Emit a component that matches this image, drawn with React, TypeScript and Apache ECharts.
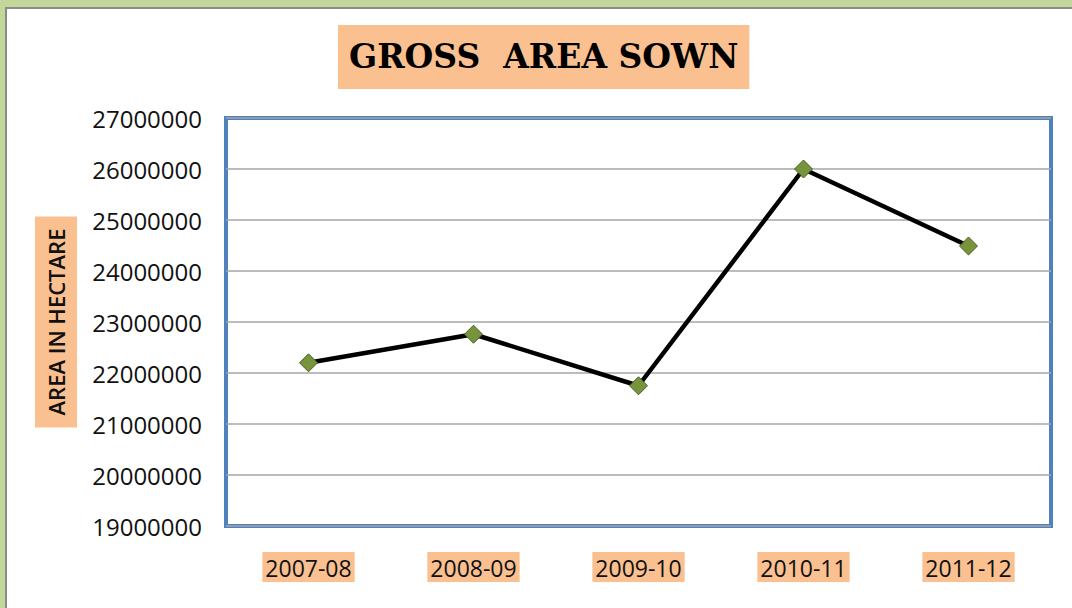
import React, { useEffect, useRef } from "react";
import * as echarts from "echarts";

const categories = ["2007-08", "2008-09", "2009-10", "2010-11", "2011-12"];
const grossAreaSown = [22200000, 22760000, 21750000, 26000000, 24490000];
const yMin = 19000000;
const yMax = 27000000;
const yStep = 1000000;
const titleText = "GROSS  AREA SOWN";
const yAxisTitle = "AREA IN HECTARE";

export default function App() {
  const ref = useRef<HTMLDivElement>(null);
  useEffect(() => {
    if (!ref.current) return;
    const chart = echarts.init(ref.current, undefined, { renderer: "svg" });
    chart.setOption({
      animation: false,
      backgroundColor: "#c4d79b",
      title: {
        text: titleText,
        left: 338,
        top: 25,
        backgroundColor: "#fac090",
        padding: [15, 11, 16, 11],
        textStyle: {
          fontFamily: "DejaVu Serif",
          fontWeight: "bold",
          fontSize: 33,
          color: "#000",
        },
      },
      graphic: [
        {
          type: "rect",
          shape: { x: 6, y: 8, width: 1080, height: 620 },
          style: { fill: "#ffffff", stroke: "#8c8c8c", lineWidth: 2 },
          z: -10,
        },
      ],
      grid: {
        left: 226,
        top: 118,
        width: 825,
        height: 408,
        show: true,
        borderColor: "#4f81bd",
        borderWidth: 4,
        backgroundColor: "#ffffff",
      },
      xAxis: {
        type: "category",
        data: categories,
        boundaryGap: true,
        axisLine: { show: false },
        axisTick: { show: false },
        axisLabel: {
          fontFamily: "Open Sans",
          fontSize: 23,
          color: "#111",
          margin: 26,
          backgroundColor: "#fac090",
          padding: [4, 3, 3, 3],
        },
      },
      yAxis: {
        type: "value",
        min: yMin,
        max: yMax,
        interval: yStep,
        name: yAxisTitle,
        nameLocation: "middle",
        nameGap: 149,
        nameTextStyle: {
          fontFamily: "Open Sans",
          fontSize: 22,
          fontWeight: 600,
          color: "#111",
          backgroundColor: "#fac090",
          padding: [10, 12, 10, 12],
        },
        axisLine: { show: false },
        axisTick: { show: false },
        splitLine: { lineStyle: { color: "#a6a6a6", width: 1.5 } },
        axisLabel: {
          fontFamily: "Open Sans",
          fontSize: 24,
          color: "#111",
          margin: 24,
          formatter: (v: number) => String(v),
        },
      },
      series: [
        {
          type: "line",
          data: grossAreaSown,
          symbol: "diamond",
          symbolSize: 18,
          lineStyle: { color: "#000000", width: 4.5 },
          itemStyle: { color: "#77933c", borderColor: "#4a5e25", borderWidth: 1 },
        },
      ],
    });
    return () => chart.dispose();
  }, []);
  return (
    <div
      ref={ref}
      style={{ position: "fixed", left: 0, top: 0, width: 1072, height: 608 }}
    />
  );
}
